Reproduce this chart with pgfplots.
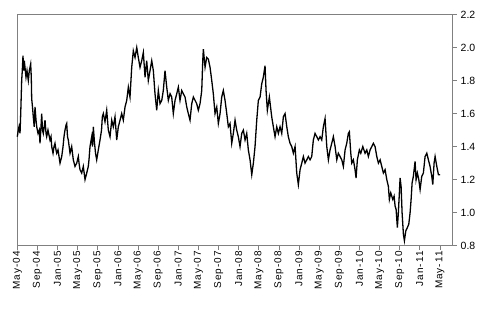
\documentclass[border=0pt]{standalone}
\usepackage{fontspec}
\setmainfont{Liberation Sans}
\newfontfamily\xlabfont[LetterSpace=10]{Liberation Sans}
\usepackage{pgfplots}
\pgfplotsset{compat=1.18}
\definecolor{axgrey}{RGB}{128,128,128}
\begin{document}
\begin{tikzpicture}
\begin{axis}[
  scale only axis,
  width=435.2pt, height=231.2pt,
  xmin=0, xmax=86.5, ymin=0.8, ymax=2.2,
  axis line style={axgrey, line width=0.8pt},
  tick style={axgrey, line width=0.8pt},
  major tick length=4pt,
  tick align=outside,
  xtick pos=bottom, ytick pos=right,
  xtick={0,4,...,84},
  xticklabels={May-04,Sep-04,Jan-05,May-05,Sep-05,Jan-06,May-06,Sep-06,Jan-07,May-07,Sep-07,Jan-08,May-08,Sep-08,Jan-09,May-09,Sep-09,Jan-10,May-10,Sep-10,Jan-11,May-11},
  xticklabel style={rotate=90, anchor=east, font=\xlabfont\fontsize{10}{12}\selectfont, inner sep=1.5pt},
  ytick={0.8,1.0,...,2.2},
  yticklabel style={font=\fontsize{10.5}{12}\selectfont, inner sep=4pt, /pgf/number format/.cd, fixed, fixed zerofill, precision=1, assume math mode=true},
  /pgf/number format/assume math mode=true,
  clip=false,
]
\coordinate (bl) at (rel axis cs:0,0);
\coordinate (tr) at (rel axis cs:1,1);
\addplot[black, line width=1.3pt, line join=miter] table {
x y
0.00 1.46
0.20 1.50
0.34 1.52
0.54 1.48
0.68 1.60
0.87 1.80
0.99 1.86
1.13 1.95
1.27 1.86
1.39 1.92
1.53 1.88
1.73 1.82
1.93 1.86
2.19 1.80
2.39 1.86
2.66 1.90
2.78 1.82
2.86 1.69
3.02 1.64
3.18 1.58
3.36 1.52
3.52 1.64
3.72 1.56
3.86 1.52
4.12 1.48
4.37 1.50
4.51 1.42
4.71 1.52
4.85 1.60
5.01 1.50
5.17 1.48
5.35 1.52
5.51 1.56
5.71 1.48
5.84 1.46
6.10 1.50
6.50 1.44
6.70 1.46
6.84 1.40
7.10 1.36
7.30 1.40
7.49 1.42
7.69 1.38
7.83 1.36
8.09 1.38
8.49 1.30
8.83 1.34
9.09 1.40
9.28 1.46
9.48 1.50
9.68 1.53
9.82 1.54
9.98 1.46
10.14 1.44
10.48 1.36
10.81 1.40
11.13 1.32
11.47 1.28
11.81 1.30
12.13 1.34
12.27 1.30
12.46 1.26
12.80 1.24
13.12 1.28
13.46 1.20
13.80 1.24
14.11 1.28
14.25 1.32
14.45 1.40
14.79 1.46
14.95 1.40
15.11 1.52
15.35 1.42
15.55 1.36
15.78 1.32
16.10 1.38
16.44 1.44
16.74 1.50
16.90 1.58
17.10 1.60
17.43 1.55
17.77 1.62
17.93 1.56
18.09 1.50
18.43 1.46
18.77 1.56
19.08 1.52
19.42 1.58
19.76 1.44
20.08 1.52
20.42 1.56
20.75 1.60
21.07 1.56
21.41 1.64
21.75 1.68
22.07 1.76
22.40 1.70
22.74 1.88
23.06 1.98
23.40 1.94
23.74 2.00
24.05 1.94
24.39 1.88
24.73 1.92
25.05 1.97
25.39 1.82
25.72 1.92
26.04 1.80
26.38 1.86
26.72 1.92
27.04 1.86
27.37 1.72
27.71 1.62
28.03 1.74
28.37 1.66
28.71 1.68
29.02 1.74
29.36 1.86
29.70 1.76
30.02 1.68
30.36 1.72
30.69 1.70
31.01 1.60
31.35 1.68
31.69 1.72
32.01 1.76
32.34 1.68
32.68 1.74
33.00 1.72
33.34 1.70
33.68 1.64
33.99 1.60
34.33 1.56
34.67 1.66
34.99 1.70
35.33 1.68
35.66 1.66
35.98 1.62
36.32 1.66
36.66 1.74
36.86 1.92
36.98 1.99
37.32 1.88
37.65 1.94
37.97 1.93
38.31 1.88
38.65 1.80
38.96 1.72
39.30 1.60
39.64 1.64
39.96 1.54
40.30 1.60
40.63 1.70
40.95 1.74
41.29 1.68
41.63 1.60
41.95 1.52
42.28 1.54
42.62 1.42
42.94 1.48
43.28 1.56
43.61 1.50
43.93 1.46
44.27 1.40
44.61 1.48
44.93 1.50
45.27 1.44
45.60 1.48
45.92 1.38
46.26 1.32
46.60 1.23
46.92 1.30
47.25 1.40
47.59 1.56
47.91 1.68
48.25 1.70
48.58 1.78
48.90 1.82
49.24 1.89
49.44 1.74
49.70 1.62
50.10 1.70
50.57 1.58
50.89 1.52
51.23 1.46
51.57 1.52
51.89 1.48
52.22 1.52
52.56 1.48
52.88 1.58
53.22 1.60
53.56 1.52
53.87 1.46
54.21 1.42
54.55 1.40
54.87 1.36
55.21 1.40
55.54 1.24
55.86 1.17
56.20 1.26
56.54 1.30
56.86 1.34
57.19 1.30
57.53 1.32
57.85 1.34
58.19 1.32
58.52 1.34
58.84 1.44
59.18 1.48
59.52 1.46
59.84 1.44
60.18 1.46
60.51 1.44
60.83 1.52
61.17 1.57
61.51 1.40
61.83 1.32
62.16 1.38
62.50 1.42
62.82 1.46
63.16 1.40
63.50 1.32
63.81 1.36
64.15 1.34
64.49 1.32
64.81 1.28
65.15 1.38
65.48 1.42
65.80 1.48
66.00 1.49
66.28 1.36
66.48 1.30
66.80 1.32
67.13 1.26
67.33 1.21
67.59 1.32
67.99 1.38
68.27 1.36
68.67 1.40
69.12 1.36
69.46 1.38
69.78 1.34
70.12 1.38
70.46 1.40
70.77 1.42
71.11 1.40
71.45 1.34
71.77 1.30
72.11 1.32
72.44 1.28
72.76 1.24
73.10 1.26
73.44 1.20
73.75 1.16
73.95 1.08
74.23 1.12
74.63 1.08
74.89 1.10
75.09 1.04
75.29 1.02
75.54 0.91
75.74 1.00
75.94 1.12
76.08 1.21
76.28 1.16
76.48 1.00
76.74 0.87
76.94 0.83
77.22 0.89
77.53 0.91
77.81 0.93
78.07 1.00
78.27 1.08
78.47 1.18
78.72 1.22
79.06 1.31
79.26 1.20
79.52 1.24
79.80 1.20
80.06 1.14
80.39 1.22
80.71 1.24
81.05 1.34
81.39 1.36
81.71 1.32
82.04 1.28
82.38 1.22
82.58 1.17
82.84 1.30
83.04 1.34
83.38 1.28
83.70 1.23
84.04 1.23
};
\end{axis}
\pgfresetboundingbox
\path ([shift={(-17.3pt,-66.3pt)}]bl) rectangle ([shift={(41.5pt,14.5pt)}]tr);
\end{tikzpicture}
\end{document}
